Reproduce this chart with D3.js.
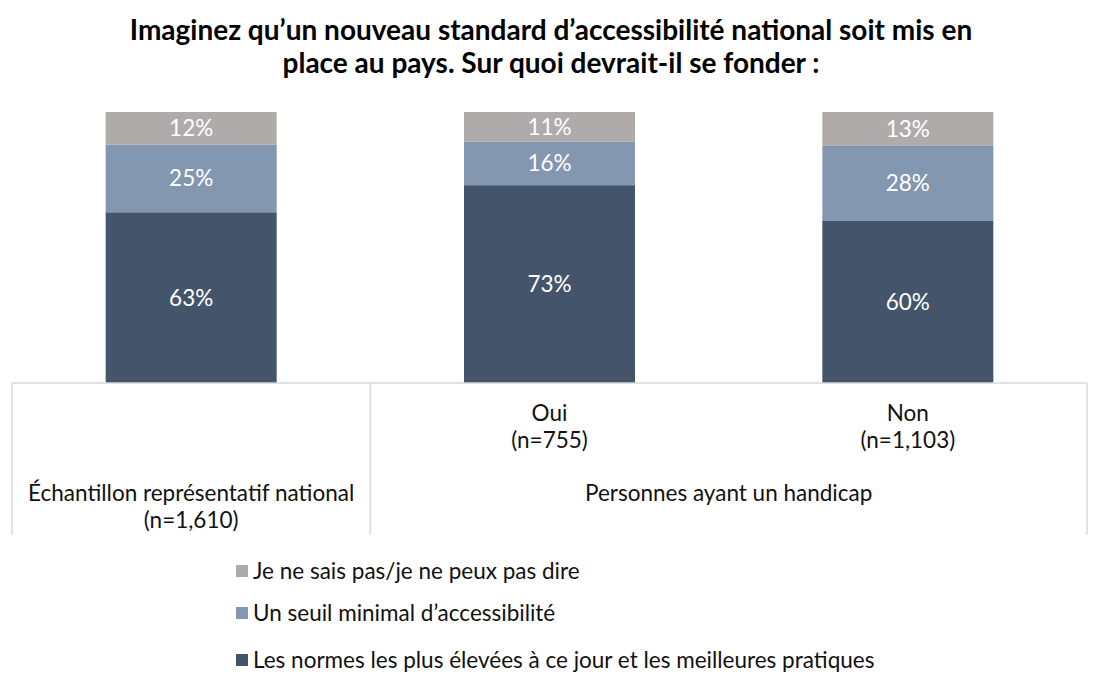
<!DOCTYPE html>
<html>
<head>
<meta charset="utf-8">
<script src="https://cdn.jsdelivr.net/npm/d3@7"></script>
<style>
  body { margin: 0; background: #fff; }
  text { font-family: Lato, "Open Sans", sans-serif; }
</style>
</head>
<body>
<script>
// Chart data
var groups = ["Échantillon représentatif national", "Oui", "Non"];
var groupIds = ["national", "oui", "non"];
var seriesNames = [
  "Les normes les plus élevées à ce jour et les meilleures pratiques",
  "Un seuil minimal d’accessibilité",
  "Je ne sais pas/je ne peux pas dire"
];
var normesValues = [63, 73, 60];
var seuilValues = [25, 16, 27.5];
var nspValues = [12, 11, 12.5];
var subLabels = ["(n=1,610)", "(n=755)", "(n=1,103)"];
var parentLabel = "Personnes ayant un handicap";
var titleLines = [
  "Imaginez qu’un nouveau standard d’accessibilité national soit mis en",
  "place au pays. Sur quoi devrait-il se fonder :"
];
var colors = ["#44546a", "#8497b0", "#afabab"];

var svgWidth = 1103;
var svgHeight = 687;
var fontSize = "22.5px";

var svg = d3.select("body")
  .append("svg")
  .attr("width", svgWidth)
  .attr("height", svgHeight);

// Build rows for stacking
var rows = groupIds.map(function(id, i) {
  return { id: id, s0: normesValues[i], s1: seuilValues[i], s2: nspValues[i] };
});
var stack = d3.stack().keys(["s0", "s1", "s2"]);
var stacked = stack(rows);

// Scales
var xScale = d3.scaleBand()
  .domain(groupIds)
  .range([12, 1087])
  .paddingInner(0)
  .paddingOuter(0);

var barWidth = 171;

var yScale = d3.scaleLinear()
  .domain([0, 100])
  .range([383, 112]);

// Title
svg.append("g").selectAll("text")
  .data(titleLines)
  .enter()
  .append("text")
  .attr("x", 551)
  .attr("y", function(d, i) { return 40 + i * 33; })
  .attr("text-anchor", "middle")
  .attr("font-size", "28px")
  .attr("font-weight", "bold")
  .attr("fill", "#000")
  .text(function(d) { return d; });

// Bars
var layer = svg.append("g").selectAll("g")
  .data(stacked)
  .enter()
  .append("g")
  .attr("fill", function(d, i) { return colors[i]; });

layer.selectAll("rect")
  .data(function(d) { return d; })
  .enter()
  .append("rect")
  .attr("x", function(d) { return xScale(d.data.id) + xScale.bandwidth() / 2 - barWidth / 2; })
  .attr("y", function(d) { return yScale(d[1]); })
  .attr("width", barWidth)
  .attr("height", function(d) { return yScale(d[0]) - yScale(d[1]); });

// Value labels
layer.selectAll("text")
  .data(function(d) { return d; })
  .enter()
  .append("text")
  .attr("x", function(d) { return xScale(d.data.id) + xScale.bandwidth() / 2; })
  .attr("y", function(d) { return (yScale(d[0]) + yScale(d[1])) / 2; })
  .attr("dy", "0.35em")
  .attr("text-anchor", "middle")
  .attr("font-size", fontSize)
  .attr("fill", "#fff")
  .text(function(d) { return Math.round(d[1] - d[0]) + "%"; });

// Category axis (two levels)
var axisColor = "#d9d9d9";
var axisG = svg.append("g");
axisG.append("line")
  .attr("x1", xScale.range()[0]).attr("x2", xScale.range()[1])
  .attr("y1", yScale(0)).attr("y2", yScale(0))
  .attr("stroke", axisColor).attr("stroke-width", 1.5);

var dividers = [xScale("national"), xScale("oui"), xScale.range()[1]];
axisG.selectAll(".div")
  .data(dividers)
  .enter()
  .append("line")
  .attr("x1", function(d) { return d; }).attr("x2", function(d) { return d; })
  .attr("y1", yScale(0)).attr("y2", 535)
  .attr("stroke", axisColor).attr("stroke-width", 1.5);

function axisText(x, y, t) {
  axisG.append("text")
    .attr("x", x).attr("y", y)
    .attr("text-anchor", "middle").attr("font-size", fontSize).attr("fill", "#111")
    .text(t);
}

// Inner labels (Oui / Non)
[1, 2].forEach(function(i) {
  var cx = xScale(groupIds[i]) + xScale.bandwidth() / 2;
  axisText(cx, 421, groups[i]);
  axisText(cx, 448, subLabels[i]);
});

// Outer labels
var natX = xScale("national") + xScale.bandwidth() / 2;
axisText(natX, 501, groups[0]);
axisText(natX, 528, subLabels[0]);
axisText((xScale("oui") + xScale.range()[1]) / 2, 501, parentLabel);

// Legend (reverse order, top = last series)
var legendOrder = [2, 1, 0];
var legendY = [571, 613, 660];
var legend = svg.append("g").selectAll("g")
  .data(legendOrder)
  .enter()
  .append("g")
  .attr("transform", function(d, i) { return "translate(236," + legendY[i] + ")"; });
legend.append("rect")
  .attr("x", 0).attr("y", -6)
  .attr("width", 12).attr("height", 12)
  .attr("fill", function(d) { return colors[d]; });
legend.append("text")
  .attr("x", 17).attr("dy", "0.35em")
  .attr("font-size", fontSize).attr("fill", "#111")
  .text(function(d) { return seriesNames[d]; });
</script>
</body>
</html>
